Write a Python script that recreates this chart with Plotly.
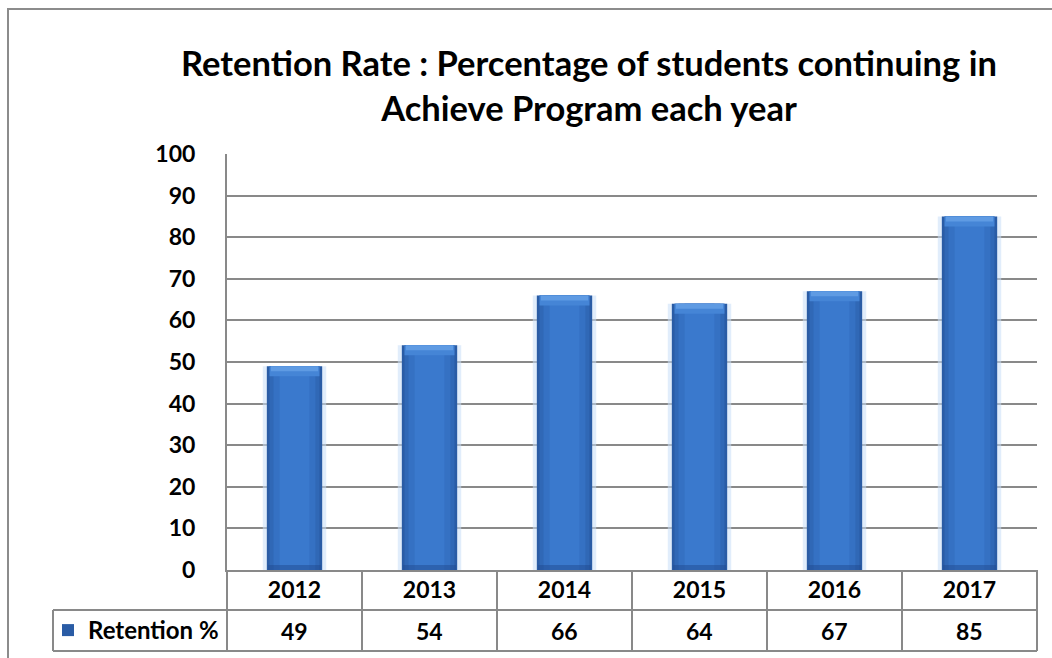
import plotly.graph_objects as go

# ---- data -------------------------------------------------------------
years = ["2012", "2013", "2014", "2015", "2016", "2017"]
retention = [49, 54, 66, 64, 67, 85]
series_name = "Retention %"
title_lines = [
    "Retention Rate : Percentage of students continuing in",
    "Achieve Program each year",
]
y_ticks = list(range(0, 101, 10))

# ---- geometry helpers (pixel -> paper) ---------------------------------
W, H = 1052, 658
L, R, T, B = 227, 15, 154, 88
PW = W - L - R
PH = H - T - B


def px_x(x):
    return (x - L) / PW


def px_y(y):
    return (H - B - y) / PH


FONT = "Lato"
GRID = "#898989"
TXT = dict(family=FONT, size=23, color="#000000", weight="bold")

fig = go.Figure()

# soft halo behind each column
fig.add_bar(
    x=years, y=retention, width=0.47,
    marker=dict(color="rgba(200,222,248,0.55)", line_width=0),
    showlegend=False, hoverinfo="skip",
)

# column body: stacked overlays from dark edges to lighter centre
layers = [
    (0.41, "#2A5CA5", True),
    (0.37, "#3068B6"),
    (0.31, "#3571C3"),
    (0.22, "#3A79CD"),
]
for spec in layers:
    w, c = spec[0], spec[1]
    legend = len(spec) > 2
    fig.add_bar(
        x=years, y=retention, width=w, name=series_name,
        marker=dict(color=c, line_width=0),
        showlegend=legend, hoverinfo="skip" if not legend else None,
    )

# darker foot of each column
fig.add_bar(
    x=years, y=[1.2] * len(years), base=[0] * len(years), width=0.39,
    marker=dict(color="rgba(30,70,140,0.45)", line_width=0),
    showlegend=False, hoverinfo="skip",
)

# lighter rounded cap of each column
fig.add_bar(
    x=years, y=[2.4] * len(years), base=[v - 2.4 for v in retention], width=0.37,
    marker=dict(color="#4585D6", line_width=0),
    showlegend=False, hoverinfo="skip",
)
fig.add_bar(
    x=years, y=[1.2] * len(years), base=[v - 1.2 for v in retention], width=0.35,
    marker=dict(color="#5F9BE3", line_width=0),
    showlegend=False, hoverinfo="skip",
)

# ---- data table under the axis ----------------------------------------
row1_bottom = px_y(610)
row2_bottom = px_y(651)
row2_text = px_y(630.5)
legend_left = px_x(53)

line = dict(color=GRID, width=2)
shapes = [
    # chart frame
    dict(type="rect", xref="paper", yref="paper",
         x0=px_x(8), x1=px_x(1070), y0=px_y(700), y1=px_y(9),
         line=dict(color="#8c8c8c", width=2), fillcolor="rgba(0,0,0,0)"),
    dict(type="line", xref="paper", yref="paper",
         x0=legend_left, x1=1, y0=row1_bottom, y1=row1_bottom, line=line),
    dict(type="line", xref="paper", yref="paper",
         x0=legend_left, x1=1, y0=row2_bottom, y1=row2_bottom, line=line),
    dict(type="line", xref="paper", yref="paper",
         x0=legend_left, x1=legend_left, y0=row1_bottom, y1=row2_bottom, line=line),
]
n = len(years)
for k in range(n + 1):
    shapes.append(dict(type="line", xref="paper", yref="paper",
                       x0=k / n, x1=k / n, y0=0, y1=row2_bottom, line=line))

# value row of the table, one cell per category (index position on the axis)
annotations = [
    dict(x=i, y=row2_text, xref="x", yref="paper", text=str(v),
         showarrow=False, font=TXT, xanchor="center", yanchor="middle")
    for i, v in enumerate(retention)
]

fig.update_layout(
    width=W, height=H,
    margin=dict(l=L, r=R, t=T, b=B, pad=0, autoexpand=False),
    paper_bgcolor="white", plot_bgcolor="white",
    barmode="overlay",
    title=dict(
        text="<br>".join(title_lines),
        font=dict(family=FONT, size=34.5, color="#000000", weight="bold"),
        x=589 / W, xref="container", xanchor="center",
        y=1 - 76 / H, yref="container", yanchor="top",
    ),
    legend=dict(
        x=px_x(224), y=row2_text, xref="paper", yref="paper",
        xanchor="right", yanchor="middle",
        font=dict(family=FONT, size=24, color="#000000", weight="bold"),
        bgcolor="rgba(0,0,0,0)", borderwidth=0,
        itemsizing="constant",
    ),
    shapes=shapes,
    annotations=annotations,
    font=dict(family=FONT),
)

fig.update_xaxes(
    type="category", range=[-0.5, n - 0.5],
    showline=True, linecolor=GRID, linewidth=2,
    showgrid=False, ticks="", tickfont=TXT, ticklabelstandoff=-2,
)
fig.update_yaxes(
    range=[0, 100], tickvals=y_ticks,
    showgrid=True, gridcolor=GRID, gridwidth=1.6,
    showline=True, linecolor=GRID, linewidth=2,
    zeroline=False, ticks="", tickfont=TXT, ticklabelstandoff=25,
)

fig.write_html("out.html")
